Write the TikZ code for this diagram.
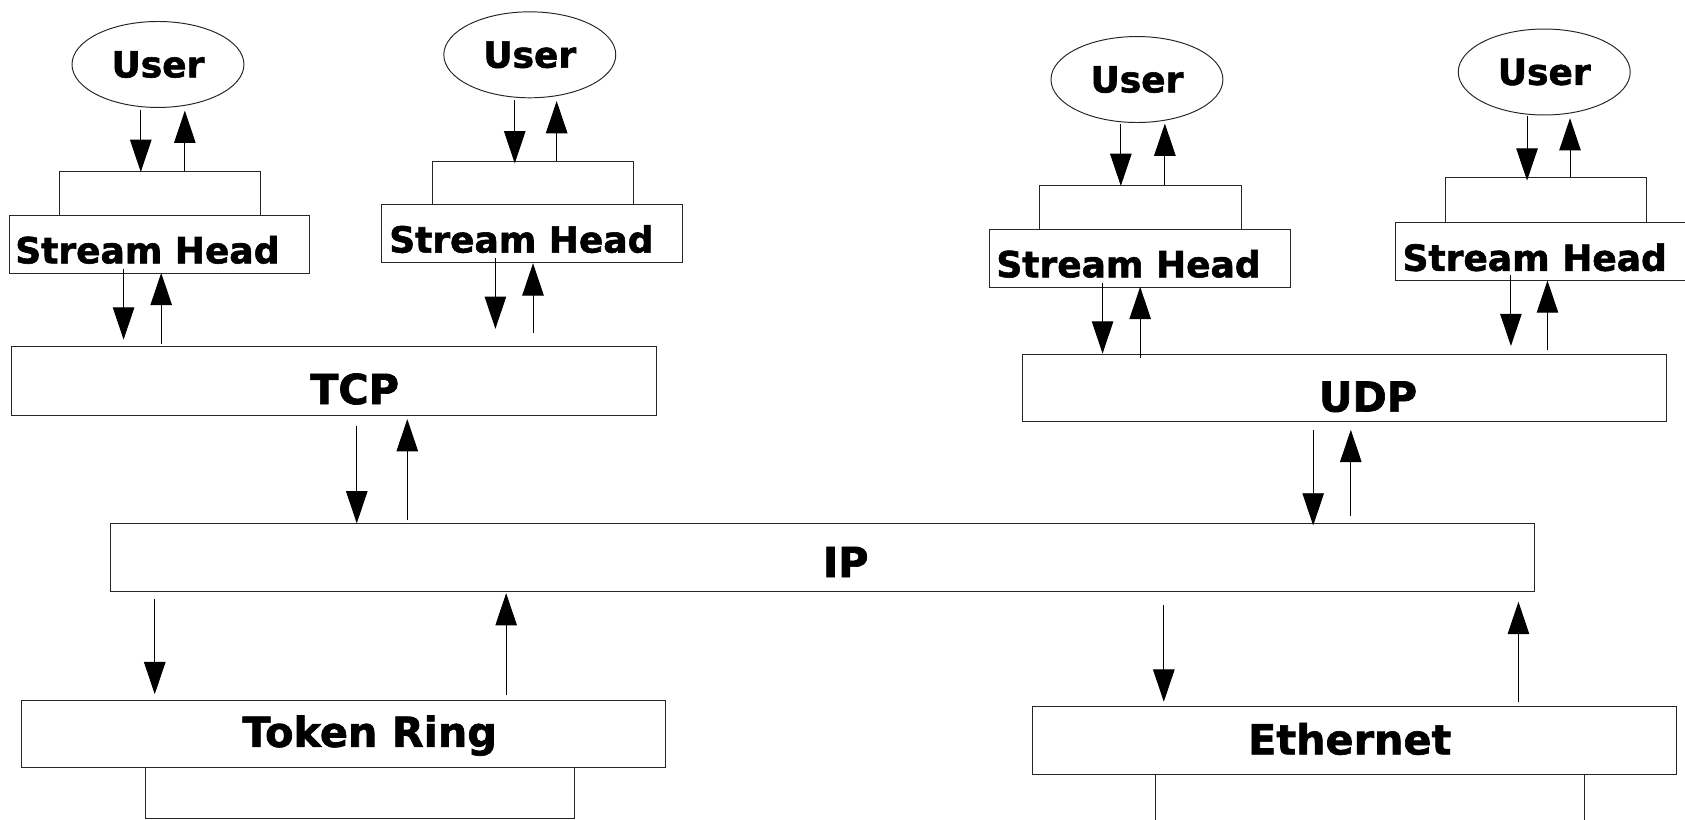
\documentclass[tikz,border=0pt]{standalone}
\usepackage{fontspec}
\setmainfont{DejaVu Sans}[BoldFeatures={FakeBold=1.6}]
\usetikzlibrary{arrows.meta,shapes.geometric}
\begin{document}
\begin{tikzpicture}[x=1pt,y=-1pt,
  box/.style={draw=black!85,line width=0.9pt,inner sep=0pt,anchor=north west},
  usr/.style={draw=black!85,line width=0.9pt,ellipse,minimum width=160pt,minimum height=80pt,inner sep=0pt,font=\fontsize{33.5}{36}\selectfont\bfseries},
  sml/.style={font=\fontsize{33.5}{36}\selectfont\bfseries,inner sep=0pt,anchor=base west},
  big/.style={font=\fontsize{38.5}{40}\selectfont\bfseries,inner sep=0pt,anchor=base},
  arr/.style={line width=0.9pt,-{Triangle[length=30pt,width=20pt]}}]
\useasboundingbox (0,0) rectangle (1568,763);
\fill[white] (0,0) rectangle (1568,763);
% users
\node[usr] (u1) at (147,60) {User};
\node[usr] (u2) at (493,51) {User};
\node[usr] (u3) at (1058,74) {User};
\node[usr] (u4) at (1437,67) {User};
% top small boxes
\node[box,minimum width=187pt,minimum height=41pt] (t1) at (55,159) {};
\node[box,minimum width=187pt,minimum height=40pt] (t2) at (402,150) {};
\node[box,minimum width=188pt,minimum height=41pt] (t3) at (967,172) {};
\node[box,minimum width=187pt,minimum height=42pt] (t4) at (1345,165) {};
% stream heads
\node[box,minimum width=280pt,minimum height=54pt] (s1) at (8,200) {};
\node[box,minimum width=280pt,minimum height=54pt] (s2) at (355,190) {};
\node[box,minimum width=280pt,minimum height=54pt] (s3) at (920,213) {};
\node[box,minimum width=280pt,minimum height=54pt] (s4) at (1298,207) {};
\node[sml] (l1) at (14,245) {Stream Head};
\node[sml] (l2) at (362,235) {Stream Head};
\node[sml] (l3) at (927,258) {Stream Head};
\node[sml] (l4) at (1305,252) {Stream Head};
% protocol boxes
\node[box,minimum width=600pt,minimum height=64pt] (tcp) at (10,322) {};
\node[box,minimum width=599pt,minimum height=63pt] (udp) at (951,329) {};
\node[box,minimum width=1325pt,minimum height=63pt] (ip) at (102,487) {};
\node[box,minimum width=399pt,minimum height=47pt] (trl) at (135,714) {};
\node[box,minimum width=599pt,minimum height=63pt] (tr) at (20,651) {};
\node[box,minimum width=399pt,minimum height=60pt] (ethl) at (1075,720) {};
\node[box,minimum width=600pt,minimum height=63pt] (eth) at (960,657) {};
\node[big] (ltcp) at (330,376) {TCP};
\node[big] (ludp) at (1273,383) {UDP};
\node[big] (lip) at (787,537) {IP};
\node[big] (ltr) at (344,695) {Token Ring};
\node[big] (leth) at (1256,702) {Ethernet};
% arrows user <-> stream
\draw[arr] (131,102) -- (131,160);
\draw[arr] (172,159) -- (172,103);
\draw[arr] (479,93) -- (479,152);
\draw[arr] (518,150) -- (518,94);
\draw[arr] (1043,115) -- (1043,173);
\draw[arr] (1084,172) -- (1084,115);
\draw[arr] (1421,108) -- (1421,168);
\draw[arr] (1461,165) -- (1461,110);
% stream <-> tcp/udp
\draw[arr] (115,250) -- (115,316);
\draw[arr] (150,320) -- (150,254);
\draw[arr] (461,240) -- (461,306);
\draw[arr] (496,310) -- (496,245);
\draw[arr] (1026,263) -- (1026,329);
\draw[arr] (1061,333) -- (1061,267);
\draw[arr] (1406,256) -- (1406,322);
\draw[arr] (1440,326) -- (1440,261);
% tcp/udp <-> ip
\draw[arr] (332,396) -- (332,487);
\draw[arr] (379,484) -- (379,390);
\draw[arr] (1222,400) -- (1222,489);
\draw[arr] (1257,480) -- (1257,400);
% ip <-> drivers
\draw[arr] (144,557) -- (144,646);
\draw[arr] (471,647) -- (471,552);
\draw[arr] (1083,563) -- (1083,653);
\draw[arr] (1413,653) -- (1413,560);
\end{tikzpicture}
\end{document}
